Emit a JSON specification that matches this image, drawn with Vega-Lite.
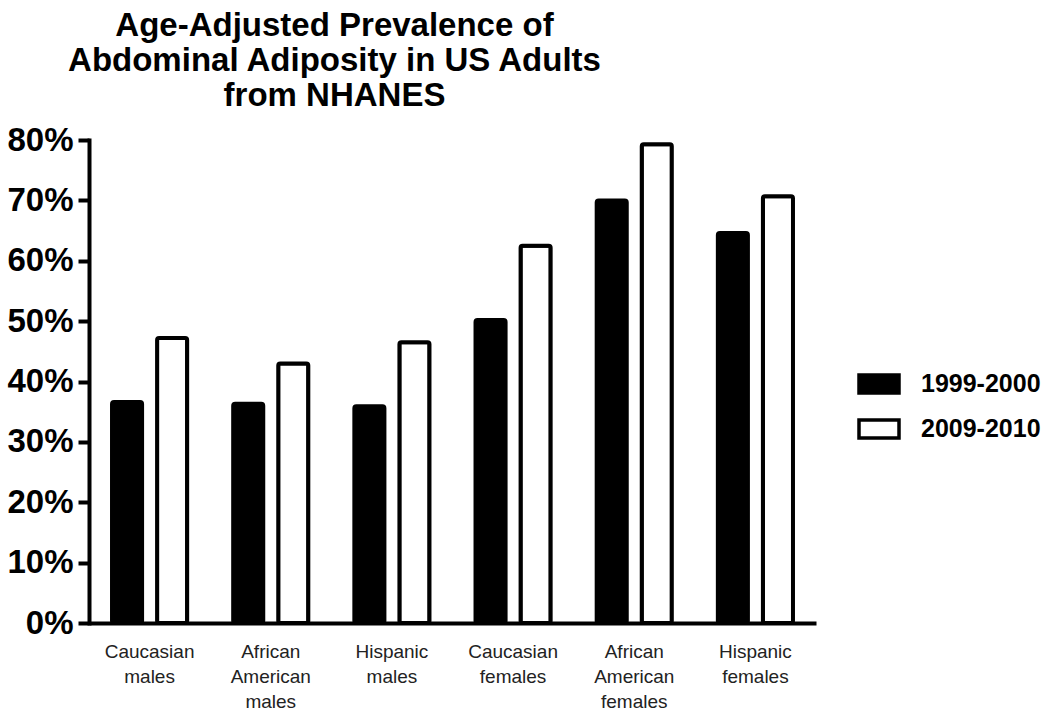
{
  "$schema": "https://vega.github.io/schema/vega-lite/v6.json",
  "width": 727,
  "height": 483,
  "autosize": {"type": "none"},
  "padding": {"left": 89, "top": 140, "right": 234, "bottom": 94},
  "background": "white",
  "title": {
    "text": ["Age-Adjusted Prevalence of", "Abdominal Adiposity in US Adults", "from NHANES"],
    "font": "Liberation Sans",
    "fontSize": 33,
    "fontWeight": "bold",
    "lineHeight": 35,
    "color": "black",
    "anchor": "middle",
    "dx": -118,
    "offset": 11
  },
  "data": {
    "values": [
      {"group": "Caucasian males", "period": "1999-2000", "value": 0.366},
      {"group": "Caucasian males", "period": "2009-2010", "value": 0.472},
      {"group": "African American males", "period": "1999-2000", "value": 0.363},
      {"group": "African American males", "period": "2009-2010", "value": 0.430},
      {"group": "Hispanic males", "period": "1999-2000", "value": 0.359},
      {"group": "Hispanic males", "period": "2009-2010", "value": 0.465},
      {"group": "Caucasian females", "period": "1999-2000", "value": 0.502},
      {"group": "Caucasian females", "period": "2009-2010", "value": 0.625},
      {"group": "African American females", "period": "1999-2000", "value": 0.700},
      {"group": "African American females", "period": "2009-2010", "value": 0.793},
      {"group": "Hispanic females", "period": "1999-2000", "value": 0.646},
      {"group": "Hispanic females", "period": "2009-2010", "value": 0.707}
    ]
  },
  "mark": {"type": "bar", "stroke": "black", "strokeWidth": 4, "cornerRadius": 2},
  "encoding": {
    "x": {
      "field": "group",
      "type": "nominal",
      "sort": null,
      "title": null,
      "scale": {"paddingInner": 0.38, "paddingOuter": 0.19},
      "axis": {
        "labelAngle": 0,
        "labelExpr": "split(datum.label, ' ')",
        "labelFont": "Liberation Sans",
        "labelFontSize": 19,
        "labelLineHeight": 25,
        "labelColor": "#222",
        "labelPadding": 19,
        "ticks": false,
        "domainColor": "black",
        "domainWidth": 4,
        "grid": false
      }
    },
    "xOffset": {
      "field": "period",
      "type": "nominal",
      "scale": {"paddingInner": 0.333, "paddingOuter": 0}
    },
    "y": {
      "field": "value",
      "type": "quantitative",
      "title": null,
      "scale": {"domain": [0, 0.8], "nice": false},
      "axis": {
        "values": [0, 0.1, 0.2, 0.3, 0.4, 0.5, 0.6, 0.7, 0.8],
        "format": ".0%",
        "grid": false,
        "labelFont": "Liberation Sans",
        "labelFontSize": 33,
        "labelFontWeight": "bold",
        "labelColor": "black",
        "labelPadding": 5,
        "tickSize": 11,
        "tickWidth": 4,
        "tickColor": "black",
        "domainColor": "black",
        "domainWidth": 4,
        "domainCap": "square"
      }
    },
    "fill": {
      "field": "period",
      "type": "nominal",
      "scale": {"domain": ["1999-2000", "2009-2010"], "range": ["black", "white"]},
      "legend": {
        "title": null,
        "orient": "none",
        "legendX": 768,
        "legendY": 222,
        "symbolType": "M-1,-0.45H1V0.45H-1Z",
        "symbolSize": 1600,
        "symbolStrokeColor": "black",
        "symbolStrokeWidth": 3.5,
        "labelFont": "Liberation Sans",
        "labelFontSize": 25,
        "labelFontWeight": "bold",
        "labelColor": "black",
        "labelOffset": 20,
        "rowPadding": 7
      }
    }
  },
  "config": {"view": {"stroke": null}}
}
